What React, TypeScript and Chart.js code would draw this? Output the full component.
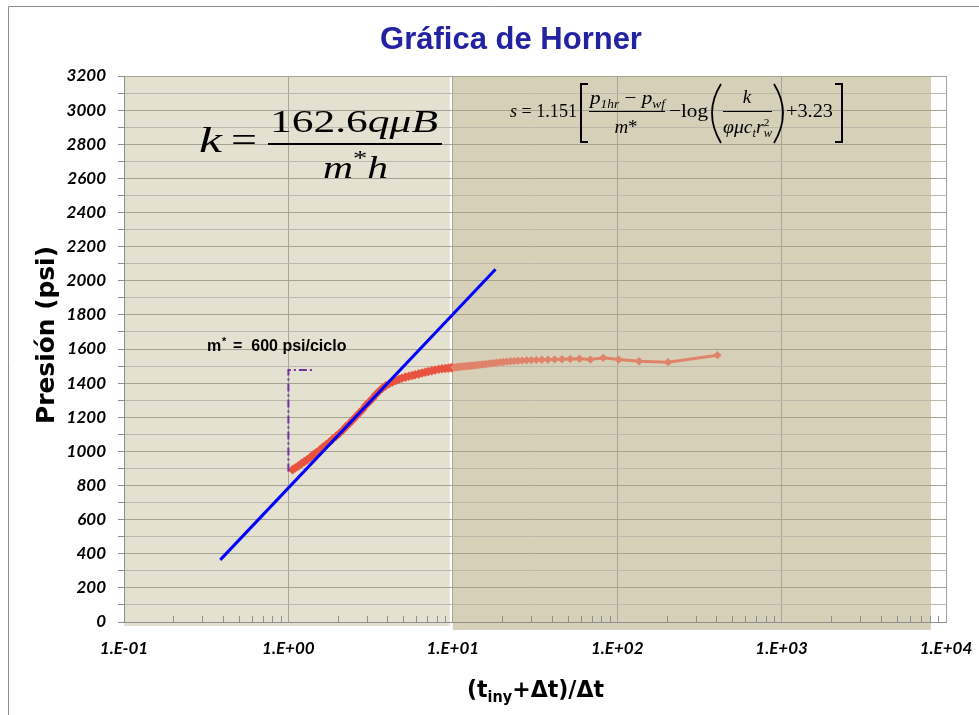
import React, { useEffect, useRef } from 'react';
import { Chart, registerables } from 'chart.js';

Chart.register(...registerables);

// ---- data ----
const hornerRatio = [
  1.06, 1.1, 1.15, 1.2, 1.25, 1.3, 1.36, 1.42, 1.48, 1.55, 1.62, 1.7, 1.78, 1.86, 1.95, 2.04, 2.14, 2.24, 2.35, 2.46,
  2.58, 2.7, 2.83, 2.96, 3.1, 3.25, 3.4, 3.56, 3.73, 3.9, 4.1, 4.3, 4.5, 4.7, 4.9, 5.15, 5.4, 5.65, 5.9, 6.2,
  6.5, 6.8, 7.1, 7.45, 7.8, 8.2, 8.6, 9.0, 9.4, 9.8,
  10.0, 10.2, 10.5, 10.7, 10.9, 11.2, 11.4, 11.7, 12.0, 12.3, 12.6, 12.9, 13.3, 13.7, 14.1, 14.5, 15.0, 15.5, 16.0, 16.6,
  17.2, 17.9, 18.6, 19.5, 20.3, 21.3, 22.4, 23.6, 24.9, 26.4, 28.1, 30.0, 32.2, 34.8, 37.9, 41.6, 46.1, 51.8, 59.0, 68.7,
  82.2, 102, 136, 204, 407,
];
const pressurePsi = [
  893, 903, 915, 928, 940, 950, 965, 981, 993, 1008, 1024, 1040, 1055, 1072, 1089, 1105, 1124, 1145, 1163, 1184,
  1205, 1225, 1245, 1270, 1290, 1310, 1333, 1352, 1370, 1384, 1396, 1407, 1416, 1423, 1429, 1435, 1440, 1445, 1449, 1454,
  1459, 1464, 1468, 1473, 1477, 1481, 1484, 1486, 1488, 1490,
  1491, 1492, 1493, 1494, 1495, 1496, 1497, 1498, 1499, 1500, 1501, 1502, 1503, 1505, 1506, 1507, 1509, 1510, 1512, 1514,
  1516, 1518, 1520, 1522, 1524, 1526, 1528, 1529, 1531, 1532, 1534, 1535, 1536, 1537, 1538, 1539, 1540, 1542, 1543, 1538,
  1548, 1538, 1528, 1523, 1564,
];
const straightLineX = [0.385, 18.2];
const straightLineY = [364, 2067];
const slopeMarkX = [1.0, 1.0, 1.41];
const slopeMarkY = [882, 1477, 1477];

const xDecadeLabels = ['1.E-01', '1.E+00', '1.E+01', '1.E+02', '1.E+03', '1.E+04'];
const xMin = 0.1;
const xMax = 10000;
const yMin = 0;
const yMax = 3200;
const yStep = 100;
const yLabelStep = 200;
const lightBand = [0.1, 10];
const darkBand = [10, 8100];

const TITLE = 'Gráfica de Horner';
const Y_TITLE = 'Presión (psi)';
const SLOPE_TEXT = '=  600 psi/ciclo';

const RED = '#E8533F';
const SALMON = '#E0836A';

const SERIF = '"Liberation Serif", "Times New Roman", serif';

type Run = { t: string; f: string; dy?: number; adv?: boolean };

function runsWidth(ctx: CanvasRenderingContext2D, runs: Run[]) {
  let w = 0;
  for (const r of runs) {
    ctx.font = r.f;
    if (r.adv !== false) w += ctx.measureText(r.t).width;
  }
  return w;
}

function drawRuns(ctx: CanvasRenderingContext2D, runs: Run[], x: number, y: number, width?: number) {
  const nat = runsWidth(ctx, runs);
  const s = width ? width / nat : 1;
  ctx.save();
  ctx.translate(x, y);
  ctx.scale(s, 1);
  let cx = 0;
  for (const r of runs) {
    ctx.font = r.f;
    ctx.fillText(r.t, cx, r.dy || 0);
    if (r.adv !== false) cx += ctx.measureText(r.t).width;
  }
  ctx.restore();
}

function isDecade(v: number | undefined) {
  if (v === undefined || v <= 0) return false;
  const l = Math.log10(v);
  return Math.abs(l - Math.round(l)) < 1e-6;
}

const decorPlugin = {
  id: 'decor',
  beforeDraw(chart: any) {
    const { ctx, chartArea: a } = chart;
    const x = chart.scales.x;
    ctx.save();
    ctx.fillStyle = '#ffffff';
    ctx.fillRect(0, 0, chart.width, chart.height);
    // frame
    ctx.strokeStyle = '#8f8f8f';
    ctx.lineWidth = 1;
    ctx.beginPath();
    ctx.moveTo(8.5, chart.height);
    ctx.lineTo(8.5, 6.5);
    ctx.lineTo(chart.width, 6.5);
    ctx.stroke();
    // bands
    const lx0 = x.getPixelForValue(lightBand[0]);
    const lx1 = x.getPixelForValue(lightBand[1]);
    ctx.fillStyle = '#E4E1D1';
    ctx.fillRect(lx0, a.top, lx1 - lx0 - 3, a.bottom - a.top + 4);
    const dx0 = x.getPixelForValue(darkBand[0]);
    const dx1 = x.getPixelForValue(darkBand[1]);
    ctx.fillStyle = '#D6D0B8';
    ctx.fillRect(dx0, a.top, dx1 - dx0, a.bottom - a.top + 8);
    ctx.restore();
  },
  afterDraw(chart: any) {
    const { ctx, chartArea: a } = chart;
    const x = chart.scales.x;
    ctx.save();
    // minor tick marks on the x axis (pointing up)
    ctx.strokeStyle = '#8e8e8e';
    ctx.lineWidth = 1;
    ctx.beginPath();
    for (let e = -1; e < 4; e++) {
      for (let k = 2; k <= 9; k++) {
        const px = Math.round(x.getPixelForValue(k * Math.pow(10, e))) + 0.5;
        ctx.moveTo(px, a.bottom);
        ctx.lineTo(px, a.bottom - 6);
      }
    }
    ctx.stroke();

    ctx.textAlign = 'left';
    ctx.textBaseline = 'alphabetic';
    ctx.fillStyle = '#000';

    // Title
    ctx.save();
    ctx.font = 'bold 31px "Liberation Sans", Arial, sans-serif';
    ctx.fillStyle = '#2222A2';
    ctx.textAlign = 'center';
    ctx.fillText(TITLE, 511, 49);
    ctx.restore();

    // Y title
    ctx.save();
    ctx.translate(45, 335);
    ctx.rotate(-Math.PI / 2);
    const yt: Run[] = [{ t: Y_TITLE, f: 'bold 24px "DejaVu Sans", sans-serif' }];
    drawRuns(ctx, yt, -89, 9, 178);
    ctx.restore();

    // X title
    const xf = 'bold 23px "DejaVu Sans", sans-serif';
    const xs = 'bold 15px "DejaVu Sans", sans-serif';
    drawRuns(ctx, [{ t: '(t', f: xf }, { t: 'iny', f: xs, dy: 5 }, { t: '+\u0394t)/\u0394t', f: xf }], 467, 697, 137);

    // k formula
    const kIt = `italic 36px ${SERIF}`;
    const kUp = `36px ${SERIF}`;
    const fIt = `italic 32px ${SERIF}`;
    const fUp = `32px ${SERIF}`;
    drawRuns(ctx, [{ t: 'k', f: kIt }], 199, 152, 23);
    drawRuns(ctx, [{ t: '=', f: kUp }], 231, 152, 26);
    drawRuns(ctx, [{ t: '162.6', f: fUp }, { t: 'q', f: fIt }, { t: '\u03bc', f: fIt }, { t: 'B', f: fIt }], 270, 132, 168);
    ctx.fillRect(268, 143, 174, 2);
    drawRuns(ctx, [{ t: 'm', f: fIt }, { t: '*', f: `22px ${SERIF}`, dy: -13 }, { t: 'h', f: fIt }], 323, 178, 65);

    // s formula
    const sIt = `italic 19px ${SERIF}`;
    const sUp = `19px ${SERIF}`;
    const sSub = `italic 12px ${SERIF}`;
    drawRuns(ctx, [{ t: 's', f: sIt }, { t: ' = ', f: sUp }, { t: '1.151', f: sUp }], 510, 117, 67);
    ctx.lineWidth = 2;
    ctx.strokeStyle = '#000';
    ctx.beginPath();
    ctx.moveTo(588, 84); ctx.lineTo(581, 84); ctx.lineTo(581, 142); ctx.lineTo(588, 142);
    ctx.stroke();
    drawRuns(ctx, [{ t: 'p', f: sIt }, { t: '1hr', f: sSub, dy: 4 }, { t: ' \u2212 ', f: sUp }, { t: 'p', f: sIt }, { t: 'wf', f: sSub, dy: 4 }], 590, 104, 75);
    ctx.fillRect(589, 111, 76, 1);
    {
      const r: Run[] = [{ t: 'm', f: sIt }, { t: '*', f: sUp }];
      const w = runsWidth(ctx, r);
      drawRuns(ctx, r, 626 - w / 2, 133);
    }
    drawRuns(ctx, [{ t: '\u2212', f: sUp }, { t: 'log', f: sUp }], 669, 117, 39);
    ctx.lineWidth = 1.8;
    ctx.beginPath();
    ctx.moveTo(721, 84); ctx.quadraticCurveTo(703, 113, 721, 143);
    ctx.stroke();
    {
      const r: Run[] = [{ t: 'k', f: sIt }];
      const w = runsWidth(ctx, r);
      drawRuns(ctx, r, 747 - w / 2, 103);
    }
    ctx.fillRect(723, 111, 49, 1);
    drawRuns(ctx, [
      { t: '\u03c6', f: sIt }, { t: '\u03bc', f: sIt }, { t: 'c', f: sIt }, { t: 't', f: sSub, dy: 4 },
      { t: 'r', f: sIt }, { t: '2', f: `11px ${SERIF}`, dy: -7, adv: false }, { t: 'w', f: sSub, dy: 4 },
    ], 723, 133, 49);
    ctx.beginPath();
    ctx.moveTo(774, 84); ctx.quadraticCurveTo(792, 113, 774, 143);
    ctx.stroke();
    drawRuns(ctx, [{ t: '+', f: sUp }, { t: '3.23', f: sUp }], 786, 117, 47);
    ctx.lineWidth = 2;
    ctx.beginPath();
    ctx.moveTo(835, 84); ctx.lineTo(842, 84); ctx.lineTo(842, 142); ctx.lineTo(835, 142);
    ctx.stroke();

    // slope annotation
    ctx.font = 'bold 16px "Liberation Sans", Arial, sans-serif';
    ctx.fillText('m', 207, 351);
    ctx.font = 'bold 11px "Liberation Sans", Arial, sans-serif';
    ctx.fillText('*', 222, 345);
    ctx.font = 'bold 16px "Liberation Sans", Arial, sans-serif';
    ctx.fillText(SLOPE_TEXT, 233, 351);

    ctx.restore();
  },
};

export default function App() {
  const ref = useRef<HTMLCanvasElement | null>(null);

  useEffect(() => {
    if (!ref.current) return;
    const tickFont = { family: 'Lato, "Open Sans", sans-serif', size: 17, weight: 'bold' as const, style: 'italic' as const };
    const chart = new Chart(ref.current, {
      type: 'scatter',
      data: {
        datasets: [
          {
            data: straightLineX.map((v, i) => ({ x: v, y: straightLineY[i] })),
            showLine: true,
            borderColor: '#0000FF',
            borderWidth: 3,
            pointRadius: 0,
          },
          {
            data: slopeMarkX.map((v, i) => ({ x: v, y: slopeMarkY[i] })),
            showLine: true,
            borderColor: '#7030A0',
            borderWidth: 2,
            borderDash: [8, 3, 2, 3],
            pointRadius: 0,
          },
          {
            data: hornerRatio.map((v, i) => ({ x: v, y: pressurePsi[i] })),
            showLine: true,
            borderColor: RED,
            borderWidth: 3,
            segment: {
              borderColor: (c: any) => (c.p0.parsed.x >= 10 ? SALMON : RED),
            },
            pointStyle: 'rectRot',
            pointRadius: (c: any) => (c.parsed && c.parsed.x < 10 ? 4.8 : 4.2),
            pointBorderWidth: 0,
            pointBackgroundColor: (c: any) => (c.parsed && c.parsed.x > 10 ? SALMON : RED),
          } as any,
        ],
      },
      options: {
        animation: false,
        responsive: false,
        layout: { padding: { top: 76, right: 33, left: 0, bottom: 0 } },
        plugins: { legend: { display: false }, tooltip: { enabled: false }, title: { display: false } },
        scales: {
          x: {
            type: 'logarithmic',
            min: xMin,
            max: xMax,
            afterFit: (s: any) => { s.height = 93; s.paddingLeft = 0; s.paddingRight = 0; },
            grid: {
              color: (c: any) => (isDecade(c.tick && c.tick.value) ? '#A9A595' : 'rgba(0,0,0,0)'),
              drawTicks: false,
              lineWidth: 1,
            },
            border: { color: '#8E8E8E' },
            ticks: {
              autoSkip: false,
              maxRotation: 0,
              minRotation: 0,
              padding: 16,
              color: '#000',
              font: tickFont,
              callback: (v: any) => {
                const n = Number(v);
                if (!isDecade(n)) return '';
                const e = Math.round(Math.log10(n));
                return xDecadeLabels[e + 1] ?? '';
              },
            },
          },
          y: {
            min: yMin,
            max: yMax,
            afterFit: (s: any) => { s.width = 124; s.paddingTop = 0; s.paddingBottom = 0; },
            grid: {
              color: (c: any) => (c.tick && c.tick.value % yLabelStep === 0 ? '#A6A292' : '#BDB9AA'),
              tickColor: '#8E8E8E',
              tickLength: 6,
              drawTicks: true,
            },
            border: { color: '#8E8E8E' },
            ticks: {
              stepSize: yStep,
              autoSkip: false,
              padding: 12,
              color: '#000',
              font: tickFont,
              callback: (v: any) => (Number(v) % yLabelStep === 0 ? String(v) : ''),
            },
          },
        },
      } as any,
      plugins: [decorPlugin],
    });
    return () => chart.destroy();
  }, []);

  return (
    <div style={{ position: 'fixed', left: 0, top: 0, width: 979, height: 715, background: '#fff' }}>
      <canvas ref={ref} width={979} height={715} style={{ display: 'block' }} />
    </div>
  );
}
